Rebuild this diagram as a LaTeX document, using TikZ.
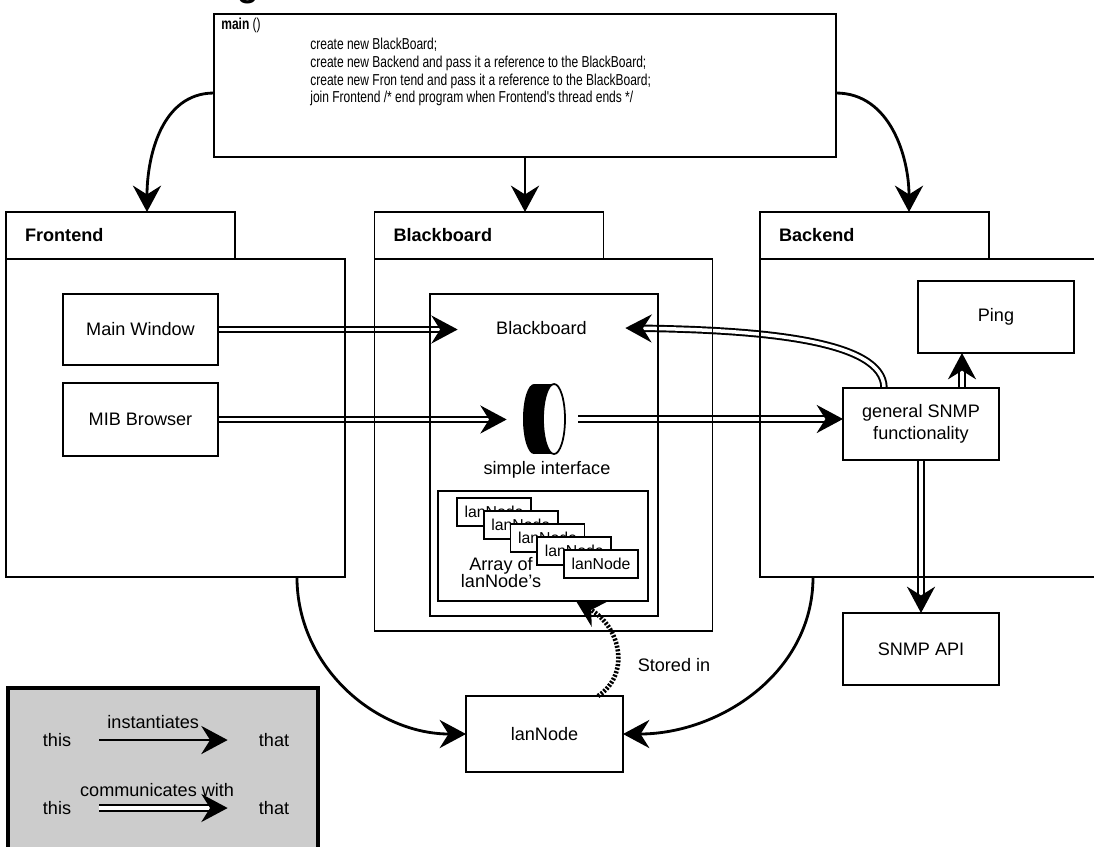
\documentclass[tikz,border=0pt]{standalone}
\usepackage{fontspec}
\setmainfont{Liberation Sans}
\newfontfamily\narrowfont[FakeStretch=0.76]{Liberation Sans}
\usetikzlibrary{arrows.meta, positioning, backgrounds}

\begin{document}
\begin{tikzpicture}[
    x=0.02cm, y=0.02cm,
    font=\fontsize{10.3}{12.4}\selectfont,
    box/.style={rectangle, draw, line width=1.1pt, inner sep=0pt, outer sep=0pt, align=center},
    tab/.style={rectangle, draw, line width=1.1pt, outer sep=0pt, inner xsep=0.38cm, inner ysep=0pt, text width=3.82cm, minimum height=0.94cm, align=left, font=\fontsize{10.3}{12.4}\selectfont\bfseries},
    panel/.style={rectangle, draw, line width=1.1pt, outer sep=0pt, anchor=north west},
    stackbox/.style={box, fill=white, minimum width=1.48cm, minimum height=0.56cm, font=\fontsize{9}{10.8}\selectfont},
    code/.style={inner sep=0pt, anchor=north west, align=left, font=\narrowfont\fontsize{9}{10.2}\selectfont},
    inst/.style={-{Stealth[length=15pt, width=16pt, inset=5pt]}, line width=1.6pt},
    comm/.style={-{Stealth[length=15pt, width=16pt, inset=5pt]}, line width=1.1pt, double, double distance=2pt},
    stored/.style={-{Stealth[length=15pt, width=16pt, inset=5pt]}, line width=2.6pt, dash pattern=on 1.2pt off 0.9pt}
]
\useasboundingbox (0,0) rectangle (1094,-846);

% title, cut off at the top
\node[anchor=base west, inner sep=0pt, font=\fontsize{20}{24}\selectfont\bfseries] (title) at (237,3.6) {g};

% main program
\node[box, minimum width=12.44cm, minimum height=2.86cm] (main) at (525,-85.5) {};
\node[code] (maincode) at (221,-17.5) {\textbf{main} ()\\[1.1pt]
    \hspace*{1.78cm}create new BlackBoard;\\
    \hspace*{1.78cm}create new Backend and pass it a reference to the BlackBoard;\\
    \hspace*{1.78cm}create new Fron tend and pass it a reference to the BlackBoard;\\
    \hspace*{1.78cm}join Frontend /* end program when Frontend's thread ends */};

% the three packages
\node[tab] (ftab) at (120.5,-235.5) {Frontend};
\node[tab] (btab) at (489,-235.5) {Blackboard};
\node[tab] (ktab) at (874.5,-235.5) {Backend};
\node[panel, minimum width=6.78cm, minimum height=6.36cm] (fbody) at (ftab.south west) {};
\node[panel, minimum width=6.76cm, minimum height=7.44cm] (bbody) at (btab.south west) {};
\node[panel, minimum width=7.2cm, minimum height=6.36cm] (kbody) at (ktab.south west) {};

% Frontend
\node[box, minimum width=3.1cm, minimum height=1.42cm] (mainwin) at (140.5,-329.5) {Main Window};
\node[box, minimum width=3.1cm, minimum height=1.46cm, below=0.36cm of mainwin] (mib) {MIB Browser};

% Blackboard
\node[box, minimum width=4.56cm, minimum height=6.44cm] (bbinner) at (544,-455) {};
\node[minimum width=3.34cm, inner sep=0pt] (bbtext) at (541.5,-328) {Blackboard};
\node[minimum width=1.42cm, minimum height=1.4cm, inner sep=0pt] (cyl) at (542.5,-419) {};
\fill (534,-419) ellipse[x radius=11, y radius=35];
\fill (534,-384) rectangle (554,-454);
\draw[line width=1pt, fill=white] (554,-419) ellipse[x radius=11, y radius=35];
\node (siftext) at (547,-470) {simple interface};
\node[box, minimum width=4.2cm, minimum height=2.2cm] (arraybox) at (543,-546) {};
\node[align=center, inner sep=0pt, font=\fontsize{10.3}{9.8}\selectfont] (arraytext) at (501,-572.5) {Array of\\lanNode's};
\foreach \i in {1,...,5}
    \node[stackbox] (ln\i) at ({494+26.75*(\i-1)}, {-512-13*(\i-1)}) {lanNode};

% Backend
\node[box, minimum width=3.12cm, minimum height=1.44cm] (snmp) at (921,-424) {general SNMP\\functionality};
\node[box, minimum width=3.12cm, minimum height=1.44cm] (ping) at (996,-317) {Ping};
\node[box, minimum width=3.12cm, minimum height=1.44cm] (api) at (921,-649) {SNMP API};

% lanNode
\node[box, minimum width=3.14cm, minimum height=1.52cm] (lannode) at (544.5,-734) {lanNode};
\node (storedlbl) at (674,-665) {Stored in};

% legend
\node[box, fill=black!20, line width=1.8pt, minimum width=6.2cm, minimum height=3.44cm] (legend) at (163,-774) {};
\node[minimum width=1.68cm] (this1) at (57,-740) {this};
\node[minimum width=1.84cm] (that1) at (274,-740) {that};
\node[minimum width=1.68cm] (this2) at (57,-808) {this};
\node[minimum width=1.84cm] (that2) at (274,-808) {that};
\draw[inst] (this1) -- node[pos=0.42, above=2.5pt] {instantiates} (that1);
\draw[comm] (this2) -- node[pos=0.45, above=2.5pt] {communicates with} (that2);

% connectors
\begin{scope}[on background layer]
\draw[inst] ([yshift=-0.15cm]main.west) to[out=180, in=90] ([xshift=0.53cm]ftab.north);
\draw[inst] (main.south) -- (main.south |- btab.north);
\draw[inst] ([yshift=-0.15cm]main.east) to[out=0, in=90] ([xshift=0.69cm]ktab.north);
\draw[comm] (mainwin.east) -- (mainwin.east -| bbtext.west);
\draw[comm] (mib.east) -- (mib.east -| cyl.west);
\draw[comm] (cyl.east) -- (cyl.east -| snmp.west);
\draw[comm] ([xshift=-0.74cm]snmp.north) .. controls +(0,48) and +(135,-2) .. (bbtext.east);
\draw[comm] ([xshift=0.82cm]snmp.north) -- ([xshift=0.82cm]snmp.north |- ping.south);
\draw[comm] (snmp.south) -- (api.north);
\draw[inst] ([xshift=2.43cm]fbody.south) to[out=-90, in=180] (lannode.west);
\draw[inst] ([xshift=1.06cm]kbody.south west) to[out=-90, in=0] (lannode.east);
\draw[stored] ([xshift=1.07cm]lannode.north) .. controls +(32,21) and +(46,-27) .. ([xshift=0.66cm]arraybox.south);
\end{scope}

\end{tikzpicture}
\end{document}
